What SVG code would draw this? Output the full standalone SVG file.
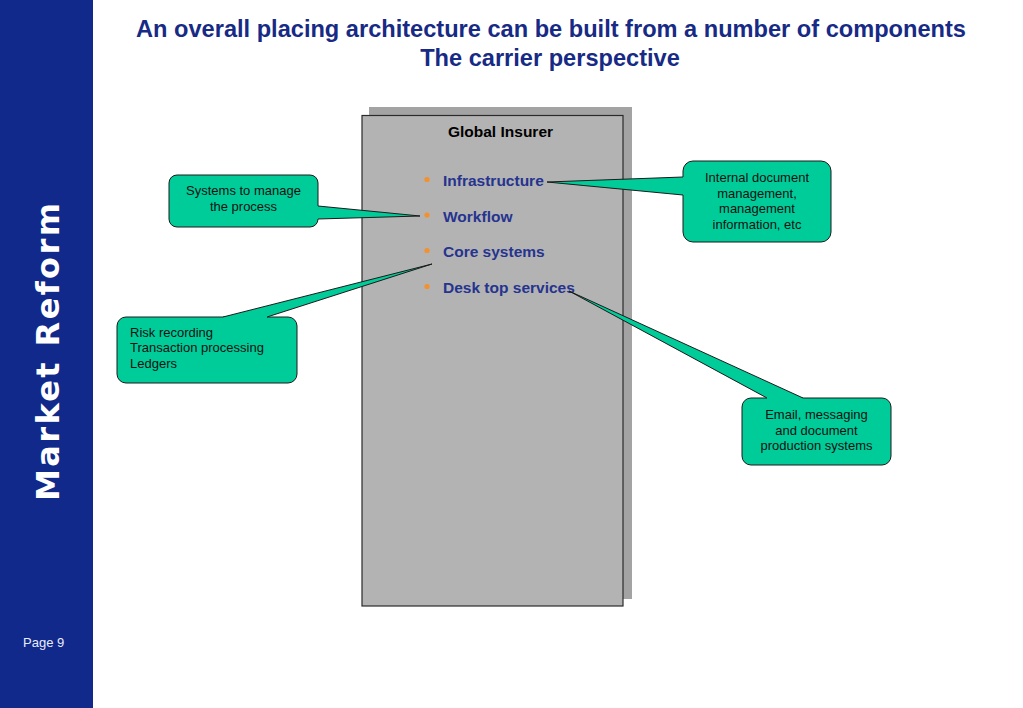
<svg xmlns="http://www.w3.org/2000/svg" width="1023" height="708" viewBox="0 0 1023 708">
<style>
.side{fill:#10298a}
.title{font-family:"Liberation Sans",Arial,sans-serif;font-weight:bold;font-size:23.6px;fill:#172a85;text-anchor:middle}
.brand{font-family:"DejaVu Sans","Liberation Sans",sans-serif;font-weight:bold;font-size:32px;fill:#ffffff;text-anchor:middle}
.page{font-family:"Liberation Sans",Arial,sans-serif;font-size:13px;fill:#e8ecff}
.box{fill:#b3b3b3;stroke:#2a2a2a;stroke-width:1.2}
.shadow{fill:#a3a3a3}
.head{font-family:"Liberation Sans",Arial,sans-serif;font-weight:bold;font-size:15.5px;fill:#000;text-anchor:middle}
.item{font-family:"Liberation Sans",Arial,sans-serif;font-weight:bold;font-size:15.5px;fill:#26338f}
.dot{fill:#f5902a}
.call{fill:#00cc99;stroke:#1a1a1a;stroke-width:1}
.ctext{font-family:"Liberation Sans",Arial,sans-serif;font-size:13px;fill:#111}
.mid{text-anchor:middle}
.wfill{fill:#00cc99;stroke:none}
.wline{fill:none;stroke:#1a1a1a;stroke-width:1;stroke-linejoin:miter}
</style>
<rect x="0" y="0" width="1023" height="708" fill="#ffffff"/>
<rect class="side" x="0" y="0" width="93" height="708"/>
<text class="brand" transform="translate(59,352) rotate(-90)" x="0" y="0" textLength="298" lengthAdjust="spacing">Market Reform</text>
<text class="page" x="23" y="647">Page 9</text>
<text class="title" x="551" y="37">An overall placing architecture can be built from a number of components</text>
<text class="title" x="550" y="65.5">The carrier perspective</text>

<g id="global-insurer">
<rect class="shadow" x="369" y="107" width="263" height="492"/>
<rect class="box" x="362" y="115.5" width="261" height="490.5"/>
<text class="head" x="500.5" y="137">Global Insurer</text>
<circle class="dot" cx="427" cy="179.5" r="2.6"/>
<text class="item" x="443" y="186">Infrastructure</text>
<circle class="dot" cx="427" cy="215" r="2.6"/>
<text class="item" x="443" y="221.5">Workflow</text>
<circle class="dot" cx="427" cy="250.5" r="2.6"/>
<text class="item" x="443" y="257">Core systems</text>
<circle class="dot" cx="427" cy="286.5" r="2.6"/>
<text class="item" x="443" y="293">Desk top services</text>
</g>

<g id="callout-workflow">
<rect class="call" x="169" y="175" width="149" height="52" rx="8" ry="8"/>
<text class="ctext mid" x="243.5" y="195">Systems to manage</text>
<text class="ctext mid" x="243.5" y="210.5">the process</text>
</g>

<g id="callout-core">
<rect class="call" x="117" y="317" width="180" height="66" rx="9" ry="9"/>
<text class="ctext" x="130" y="336.5">Risk recording</text>
<text class="ctext" x="130" y="352">Transaction processing</text>
<text class="ctext" x="130" y="367.5">Ledgers</text>
</g>

<g id="callout-infrastructure">
<rect class="call" x="683" y="161" width="148" height="81" rx="10" ry="10"/>
<text class="ctext mid" x="757" y="182">Internal document</text>
<text class="ctext mid" x="757" y="197.5">management,</text>
<text class="ctext mid" x="757" y="213">management</text>
<text class="ctext mid" x="757" y="228.5">information, etc</text>
</g>

<g id="callout-desktop">
<rect class="call" x="742" y="398" width="149" height="67" rx="9" ry="9"/>
<text class="ctext mid" x="816.5" y="419">Email, messaging</text>
<text class="ctext mid" x="816.5" y="434.5">and document</text>
<text class="ctext mid" x="816.5" y="450">production systems</text>
</g>

<g id="connectors">
<polygon class="wfill" points="318,206 420,216 318,219 316.5,219 316.5,206"/>
<path class="wline" d="M318,206 L420,216 L318,219"/>
<polygon class="wfill" points="223,317 432,264 267,317 267,318.5 223,318.5"/>
<path class="wline" d="M223,317 L432,264 L267,317"/>
<polygon class="wfill" points="683,177 547,182 683,195 684.5,195 684.5,177"/>
<path class="wline" d="M683,177 L547,182 L683,195"/>
<polygon class="wfill" points="767,398 569,291 803,398 803,399.5 767,399.5"/>
<path class="wline" d="M767,398 L569,291 L803,398"/>
</g>
</svg>
